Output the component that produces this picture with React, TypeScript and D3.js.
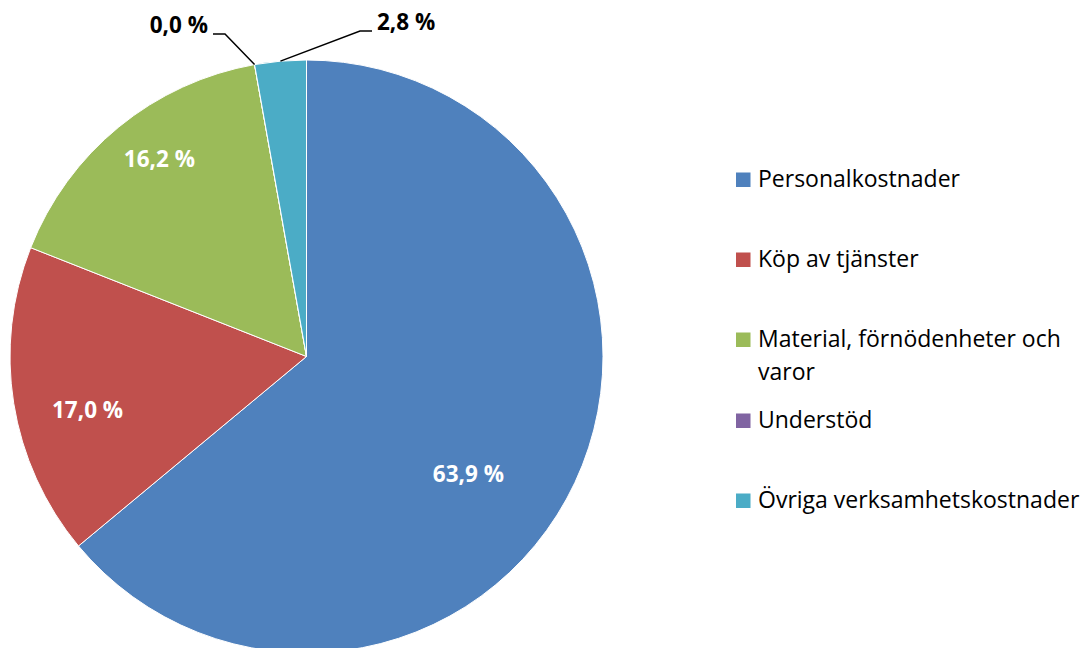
import React from "react";
import * as d3 from "d3";

const categories = [
  "Personalkostnader",
  "Köp av tjänster",
  "Material, förnödenheter och varor",
  "Understöd",
  "Övriga verksamhetskostnader",
];
const values = [63.9, 17.0, 16.2, 0.0, 2.8];
const labels = ["63,9 %", "17,0 %", "16,2 %", "0,0 %", "2,8 %"];
const legendLines = [
  ["Personalkostnader"],
  ["Köp av tjänster"],
  ["Material, förnödenheter och", "varor"],
  ["Understöd"],
  ["Övriga verksamhetskostnader"],
];
const colors = ["#4F81BD", "#C0504D", "#9BBB59", "#8064A2", "#4BACC6"];

// layout (not data)
const W = 1084;
const H = 648;
const cx = 306.5;
const cy = 356.5;
const R = 296.5;
const FONT = "'Open Sans', sans-serif";
// inside label placement: [radius fraction, angle offset (rad)]
const insidePlacement: Record<number, [number, number]> = {
  0: [0.675, 0.19],
  1: [0.76, -0.08],
  2: [0.83, 0.045],
};
const outsidePlacement: Record<number, { ex: number; ey: number; hx: number; anchor: string; tx: number; ty: number }> = {
  3: { ex: 225, ey: 34, hx: 213, anchor: "end", tx: 208, ty: 33 },
  4: { ex: 360, ey: 31, hx: 372, anchor: "start", tx: 377, ty: 30 },
};

export default function App() {
  const pie = d3.pie<number>().sort(null).value((d) => d);
  const arcs = pie(values);
  const arc = d3.arc<d3.PieArcDatum<number>>().innerRadius(0).outerRadius(R);

  const legendX = 736;
  const legendY = [187, 267, 347, 428, 508];

  return (
    <svg width={W} height={H} style={{ display: "block", position: "absolute", left: 0, top: 0 }}>
      <rect width={W} height={H} fill="#fff" />
      <g transform={`translate(${cx},${cy})`}>
        {arcs.map((a, i) => (
          <path key={i} d={arc(a) || ""} fill={colors[i]} stroke="#fff" strokeWidth={1} />
        ))}
      </g>
      {arcs.map((a, i) => {
        const p = insidePlacement[i];
        if (!p) return null;
        const mid = (a.startAngle + a.endAngle) / 2 + p[1];
        const x = cx + Math.sin(mid) * R * p[0];
        const y = cy - Math.cos(mid) * R * p[0];
        return (
          <text key={i} x={x} y={y} dy="0.35em" textAnchor="middle" fill="#fff" fontFamily={FONT} fontWeight="bold" fontSize={22.5}>
            {labels[i]}
          </text>
        );
      })}
      {arcs.map((a, i) => {
        const o = outsidePlacement[i];
        if (!o) return null;
        const mid = (a.startAngle + a.endAngle) / 2;
        const px = cx + Math.sin(mid) * R;
        const py = cy - Math.cos(mid) * R;
        return (
          <g key={i}>
            <polyline points={`${px},${py} ${o.ex},${o.ey} ${o.hx},${o.ey}`} fill="none" stroke="#000" strokeWidth={1.5} />
            <text x={o.tx} y={o.ty} textAnchor={o.anchor as any} fill="#000" fontFamily={FONT} fontWeight="bold" fontSize={22.5}>
              {labels[i]}
            </text>
          </g>
        );
      })}
      {categories.map((c, i) => (
        <g key={c}>
          <rect x={legendX} y={legendY[i] - 14.5} width={14.5} height={14.5} fill={colors[i]} />
          {legendLines[i].map((line, j) => (
            <text key={j} x={758} y={legendY[i] + j * 33} fill="#000" fontFamily={FONT} fontSize={23}>
              {line}
            </text>
          ))}
        </g>
      ))}
    </svg>
  );
}
